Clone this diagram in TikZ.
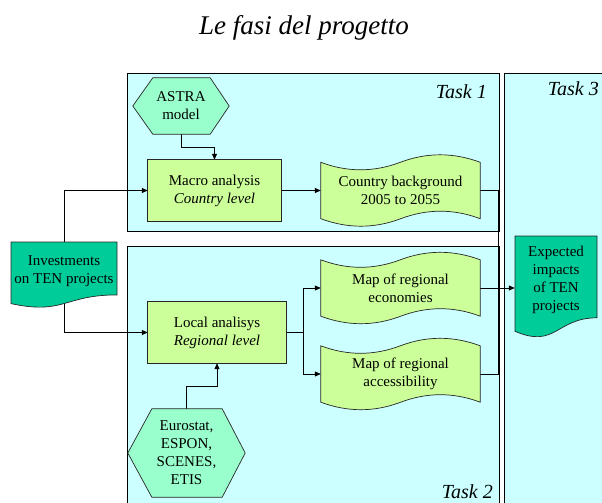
\documentclass[tikz,border=0pt]{standalone}
\usepackage{fontspec}
\setmainfont{Liberation Serif}
\usetikzlibrary{arrows.meta,calc}
\pgfdeclarelayer{tasks}
\pgfdeclarelayer{conns}
\pgfdeclarelayer{shapes}
\pgfsetlayers{tasks,conns,shapes,main}
\definecolor{taskcol}{HTML}{CCFFFF}
\definecolor{boxcol}{HTML}{CCFF99}
\definecolor{hexcol}{HTML}{99FFCC}
\definecolor{doccol}{HTML}{00CC99}
\tikzset{
  txt/.style={align=center, font=\fontsize{15}{18}\selectfont, inner sep=0pt},
  tapebox/.style={txt, minimum width=159pt, minimum height=56pt},
  shapeline/.style={draw=black!85, line width=0.7pt},
  taskbox/.style={draw=black, fill=taskcol, line width=1pt},
  tasklabel/.style={font=\fontsize{20}{24}\selectfont\itshape, inner sep=0pt, anchor=base east},
  titlestyle/.style={font=\fontsize{27}{32}\selectfont\itshape, inner sep=0pt, anchor=base},
  conn/.style={draw=black, line width=0.8pt},
  arr/.style={conn, -{Triangle[length=6pt,width=5pt]}},
}
\newcommand{\tapeshape}[1]{%
  \path[shapeline, fill=boxcol] (#1.north west)
    .. controls ($(#1.north west)+(26.5,10)$) and ($(#1.north west)+(53,10)$) .. ($(#1.north west)+(79.5,0)$)
    .. controls ($(#1.north west)+(106,-10)$) and ($(#1.north west)+(132.5,-10)$) .. (#1.north east)
    -- (#1.south east)
    .. controls ($(#1.south east)+(-26.5,-10)$) and ($(#1.south east)+(-53,-10)$) .. ($(#1.south east)+(-79.5,0)$)
    .. controls ($(#1.south east)+(-106,10)$) and ($(#1.south east)+(-132.5,10)$) .. (#1.south west)
    -- cycle;}
\newcommand{\hexshape}[3]{%
  \path[shapeline, fill=hexcol] (#1.west) -- ($(#1.north west)+(#2,0)$) -- ($(#1.north east)+(-#3,0)$)
    -- (#1.east) -- ($(#1.south east)+(-#3,0)$) -- ($(#1.south west)+(#2,0)$) -- cycle;}
\begin{document}
\begin{tikzpicture}[x=1pt,y=-1pt]
\useasboundingbox (0,0) rectangle (602,503);

% title
\node[titlestyle] (title) at (304,35) {Le fasi del progetto};

% task frames
\begin{pgfonlayer}{tasks}
  \path[taskbox] (127,73) rectangle (499,231);
  \path[taskbox] (127,246) rectangle (499,515);
  \path[taskbox] (504,73) rectangle (615,515);
\end{pgfonlayer}
\node[tasklabel] (t1) at (487,98) {Task 1};
\node[tasklabel] (t2) at (493,498) {Task 2};
\node[tasklabel] (t3) at (599,95) {Task 3};

% nodes
\node[txt, minimum width=96pt, minimum height=56pt] (astra) at (181,106) {ASTRA\\model};
\node[txt, minimum width=133pt, minimum height=61pt] (macro) at (214.5,190.5) {Macro analysis\\\textit{Country level}};
\node[tapebox] (cb) at (400.5,190.5) {Country background\\2005 to 2055};
\node[tapebox] (econ) at (400.5,288) {Map of regional\\economies};
\node[tapebox] (acc) at (400.5,374) {Map of regional\\accessibility};
\node[txt, minimum width=138pt, minimum height=61pt] (loc) at (217,332.5) {Local analisys\\\textit{Regional level}};
\node[txt, minimum width=117pt, minimum height=88pt] (euro) at (186.5,453) {Eurostat,\\ESPON,\\SCENES,\\ETIS};
\node[txt, minimum width=106pt] (inv) at (64,271) {Investments\\on TEN projects};
\node[txt, minimum width=82pt] (exp) at (556,280) {Expected\\impacts\\of TEN\\projects};
\coordinate (split) at (303,332.5);
\coordinate (join) at (498,374);

% shapes
\begin{pgfonlayer}{shapes}
  \hexshape{astra}{20}{19}
  \hexshape{euro}{24}{23}
  \path[shapeline, fill=boxcol] (macro.north west) rectangle (macro.south east);
  \path[shapeline, fill=boxcol] (loc.north west) rectangle (loc.south east);
  \tapeshape{cb}
  \tapeshape{econ}
  \tapeshape{acc}
  \path[shapeline, fill=doccol] ($(inv)+(-53,-29)$) -- ($(inv)+(53,-29)$) -- ($(inv)+(53,23.9)$)
    .. controls ($(inv)+(0,23.9)$) and ($(inv)+(0,44.1)$) .. ($(inv)+(-53,32.6)$) -- cycle;
  \path[shapeline, fill=doccol] ($(exp)+(-41,-44)$) -- ($(exp)+(41,-44)$) -- ($(exp)+(41,37.8)$)
    .. controls ($(exp)+(0,37.8)$) and ($(exp)+(0,68.9)$) .. ($(exp)+(-41,51.3)$) -- cycle;
\end{pgfonlayer}

% connectors
\begin{pgfonlayer}{conns}
  \draw[arr] (astra.south) -- ++(0,13) -| (macro.north);
  \draw[arr] (inv.center) |- (macro.west);
  \draw[arr] (inv.center) |- (loc.west);
  \draw[arr] (macro.east) -- (cb.west);
  \draw[arr] (euro.north) -- ++(0,-22) -| (loc.south);
  \draw[conn] (loc.east) -- (split);
  \draw[arr] (split) |- (econ.west);
  \draw[arr] (split) |- (acc.west);
  \draw[conn] (cb.east) -| (join) -- (acc.east);
  \draw[arr] (econ.east) -- (econ.east -| exp.west);
\end{pgfonlayer}
\end{tikzpicture}
\end{document}
